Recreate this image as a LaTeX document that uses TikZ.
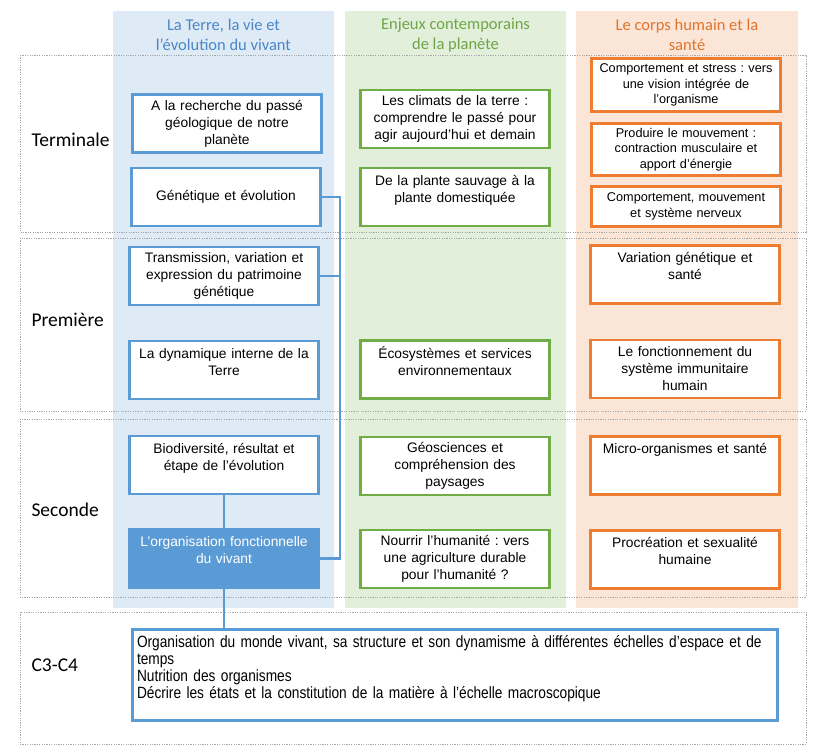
\documentclass[tikz,border=0pt]{standalone}
\usepackage{fontspec}
\setmainfont{Liberation Sans}
\newfontfamily\calibri{Carlito}
\newfontfamily\narrow{Liberation Sans}[FakeStretch=0.84]
\usetikzlibrary{positioning}
\frenchspacing
\definecolor{bluebg}{HTML}{DEEBF7}
\definecolor{greenbg}{HTML}{E2EFDA}
\definecolor{orangebg}{HTML}{FBE5D6}
\definecolor{blueline}{HTML}{5B9BD5}
\definecolor{greenline}{HTML}{70AD47}
\definecolor{orangeline}{HTML}{ED7D31}
\definecolor{bluetext}{HTML}{4A87C4}
\definecolor{greentext}{HTML}{6FA548}
\definecolor{orangetext}{HTML}{E0742D}
\definecolor{dotgray}{HTML}{A6A6A6}
\begin{document}
\begin{tikzpicture}[x=1pt,y=-1pt]
    \tikzstyle{block} = [rectangle, draw, line width=2.6pt, fill=white, text width=186pt, align=center, minimum width=189pt, minimum height=58pt, inner sep=0pt, font=\fontsize{13.8}{17}\selectfont]
    \tikzstyle{small} = [font=\fontsize{12.7}{15.5}\selectfont]
    \tikzstyle{header} = [align=center, font=\calibri\fontsize{16.5}{20}\selectfont]
    \tikzstyle{level} = [anchor=west, font=\calibri\fontsize{19.5}{20}\selectfont]
    \tikzstyle{row} = [draw=dotgray, line width=0.9pt, dash pattern=on 1.2pt off 1.2pt]
    \tikzstyle{link} = [draw=blueline, line width=2.8pt]
    \useasboundingbox (0,0) rectangle (818,748);

    \fill [bluebg] (113,11) rectangle (334,608);
    \fill [greenbg] (345,11) rectangle (566,608);
    \fill [orangebg] (576,11) rectangle (798,608);

    \draw [row] (20,55) rectangle (806,232);
    \draw [row] (20,238) rectangle (806,411);
    \draw [row] (20,419) rectangle (806,597);
    \draw [row] (20,612) rectangle (806,744);

    \node (hterre) [header, text=bluetext] at (223.5,35) {La Terre, la vie et\\ l’évolution du vivant};
    \node (henjeux) [header, text=greentext] at (455.5,35) {Enjeux contemporains\\ de la planète};
    \node (hcorps) [header, text=orangetext] at (687,35) {Le corps humain et la\\ santé};

    \node (terminale) [level] at (28,140) {Terminale};
    \node (premiere) [level] at (28,320) {Première};
    \node (seconde) [level] at (28,510) {Seconde};
    \node (cycle4) [level] at (28,665) {C3-C4};

    \node (passe) [block, draw=blueline] at (227,123.5) {A la recherche du passé\\ géologique de notre\\ planète};
    \node (genetique) [block, draw=blueline] at (226,197) {Génétique et évolution};
    \node (transmission) [block, draw=blueline] at (224,276) {Transmission, variation et\\ expression du patrimoine\\ génétique};
    \node (dynamique) [block, draw=blueline] at (224,370) {La dynamique interne de la\\ Terre\\ ~};
    \node (biodiv) [block, draw=blueline] at (224,465) {Biodiversité, résultat et\\ étape de l’évolution\\ ~};
    \node (organisation) [block, draw=blueline, fill=blueline, text=white] at (224,558.5) {L’organisation fonctionnelle\\ du vivant\\ ~};

    \node (climats) [block, draw=greenline] at (455,119) {Les climats de la terre :\\ comprendre le passé pour\\ agir aujourd'hui et demain};
    \node (plante) [block, draw=greenline] at (455,197) {De la plante sauvage à la\\ plante domestiquée\\ ~};
    \node (ecosys) [block, draw=greenline] at (455,369.5) {Écosystèmes et services\\ environnementaux\\ ~};
    \node (geosc) [block, draw=greenline] at (455,466) {Géosciences et\\ compréhension des\\ paysages};
    \node (nourrir) [block, draw=greenline] at (455,559) {Nourrir l'humanité : vers\\ une agriculture durable\\ pour l'humanité ?};

    \node (stress) [block, small, draw=orangeline, minimum height=53pt] at (686,85) {Comportement et stress : vers\\ une vision intégrée de\\ l'organisme};
    \node (mouvement) [block, small, draw=orangeline, minimum height=52pt] at (686,149.5) {Produire le mouvement :\\ contraction musculaire et\\ apport d’énergie};
    \node (nerveux) [block, small, draw=orangeline, minimum height=40pt] at (686,206.5) {Comportement, mouvement\\ et système nerveux};
    \node (variation) [block, draw=orangeline] at (685,274.5) {Variation génétique et\\ santé\\ ~};
    \node (immunitaire) [block, draw=orangeline] at (685,369) {Le fonctionnement du\\ système immunitaire\\ humain};
    \node (micro) [block, draw=orangeline] at (685,465.5) {Micro-organismes et santé\\ ~\\ ~};
    \node (procreation) [block, draw=orangeline] at (685,559.5) {Procréation et sexualité\\ humaine\\ ~};

    \node (socle) [block, draw=blueline, text width=636pt, minimum width=645pt, minimum height=91pt, align=left, font=\narrow\fontsize{16.3}{17}\selectfont] at (455,675) {Organisation du monde vivant, sa structure et son dynamisme à différentes échelles d’espace et de\\ temps\\ Nutrition des organismes\\ Décrire les états et la constitution de la matière à l’échelle macroscopique\\ ~};

    \coordinate (bus) at (340,197);
    \draw [link] (genetique.east) -- (bus) |- (organisation.east);
    \draw [link] (transmission.east) -- (transmission.east -| bus);
    \draw [link] (biodiv) -- (organisation);
    \draw [link] (organisation.south) -- (organisation.south |- socle.north);

\end{tikzpicture}
\end{document}
